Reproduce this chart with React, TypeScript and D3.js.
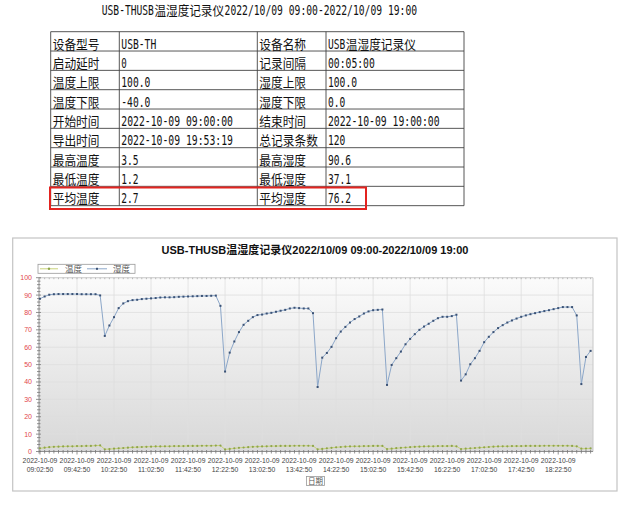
import * as d3 from "d3"

// ---- data ----
const pageTitle = "USB-THUSB温湿度记录仪2022/10/09 09:00-2022/10/09 19:00"
const chartTitle = "USB-THUSB温湿度记录仪2022/10/09 09:00-2022/10/09 19:00"
const seriesNames = ["温度", "湿度"]
const xAxisTitle = "日期"

const tableRows: string[][] = [
  ["设备型号", "USB-TH", "设备名称", "USB温湿度记录仪"],
  ["启动延时", "0", "记录间隔", "00:05:00"],
  ["温度上限", "100.0", "湿度上限", "100.0"],
  ["温度下限", "-40.0", "湿度下限", "0.0"],
  ["开始时间", "2022-10-09 09:00:00", "结束时间", "2022-10-09 19:00:00"],
  ["导出时间", "2022-10-09 19:53:19", "总记录条数", "120"],
  ["最高温度", "3.5", "最高湿度", "90.6"],
  ["最低温度", "1.2", "最低湿度", "37.1"],
  ["平均温度", "2.7", "平均湿度", "76.2"],
]

const firstRecord = new Date(2022, 9, 9, 9, 2, 50)
const recordMinutes = 5
const labelEveryRecords = 8

const humidity = [
  87.9, 89.2, 90.2, 90.5, 90.6, 90.6, 90.6, 90.6, 90.6, 90.5,
  90.5, 90.5, 90.5, 89.8, 66.5, 72.5, 77.3, 82.5, 85.2, 86.5,
  87.1, 87.3, 87.7, 87.9, 88.1, 88.3, 88.6, 88.7, 88.7, 88.8,
  89.0, 89.1, 89.2, 89.3, 89.4, 89.5, 89.5, 89.6, 89.7, 83.8,
  46.0, 56.9, 63.3, 68.7, 72.9, 75.2, 77.3, 78.5, 78.8, 79.4,
  79.8, 80.4, 81.0, 81.5, 82.3, 82.7, 82.5, 82.3, 82.3, 79.6,
  37.1, 54.0, 56.7, 60.2, 65.2, 69.0, 71.7, 74.2, 76.2, 77.7,
  79.4, 80.6, 81.3, 81.5, 81.7, 38.3, 49.8, 53.7, 57.5, 61.7,
  64.8, 67.5, 70.0, 71.9, 73.5, 75.2, 76.7, 77.5, 77.5, 77.9,
  78.7, 40.8, 44.4, 50.2, 53.7, 57.9, 62.9, 66.0, 68.7, 71.0,
  72.7, 74.2, 75.4, 76.5, 77.5, 78.3, 79.0, 79.6, 80.2, 80.8,
  81.3, 81.9, 82.5, 83.1, 83.1, 83.1, 78.3, 38.8, 54.4, 57.9,
]

const temperature = [
  1.8, 2.2, 2.5, 2.7, 2.8, 2.9, 3.0, 3.0, 3.1, 3.1, 3.2, 3.2, 3.4, 3.5,
  1.3, 1.4, 1.6, 1.8, 2.0, 2.2, 2.4, 2.5, 2.6, 2.7, 2.8, 2.9, 2.9, 3.0,
  3.0, 3.1, 3.1, 3.1, 3.2, 3.2, 3.2, 3.3, 3.3, 3.3, 3.4, 3.4,
  1.2, 1.5, 1.8, 2.1, 2.3, 2.5, 2.7, 2.8, 2.9, 3.0, 3.1, 3.1, 3.2, 3.2,
  3.2, 3.3, 3.3, 3.3, 3.3, 3.2,
  1.3, 1.5, 1.8, 2.1, 2.4, 2.6, 2.8, 2.9, 3.0, 3.0, 3.1, 3.1, 3.2, 3.2, 3.2,
  1.4, 1.6, 1.9, 2.1, 2.3, 2.5, 2.7, 2.8, 2.9, 3.0, 3.0, 3.1, 3.1, 3.1,
  3.2, 3.0,
  1.4, 1.6, 1.8, 2.0, 2.2, 2.4, 2.6, 2.8, 2.9, 3.0, 3.0, 3.1, 3.1, 3.1,
  3.2, 3.2, 3.2, 3.2, 3.3, 3.3, 3.3, 3.3, 3.3, 3.3, 3.2, 3.0,
  1.6, 1.7, 1.8,
]

const yTickValues = [0, 10, 20, 30, 40, 50, 60, 70, 80, 90, 100]

// ---- helpers ----
const isCJK = (c: string) => /[\u3000-\u9fff\uff00-\uffef]/.test(c)

function splitRuns(s: string) {
  const out: { text: string; cjk: boolean }[] = []
  for (const c of s) {
    const cjk = isCJK(c)
    const last = out[out.length - 1]
    if (last && last.cjk === cjk) last.text += c
    else out.push({ text: c, cjk })
  }
  return out
}

// SimHei-like text: full width ideographs, half width latin.
// Each run is squeezed horizontally with a transform (mono advance 0.602em, CJK 1em).
function HeiText({ x, y, text, em = 11.8, anchor = "start" }: {
  x: number; y: number; text: string; em?: number; anchor?: string
}) {
  const runs = splitRuns(text)
  const widths = runs.map((r) => (r.cjk ? r.text.length * em : r.text.length * em * 0.5))
  const total = d3.sum(widths)
  let cx = anchor === "middle" ? x - total / 2 : x
  return (
    <g fill="#111">
      {runs.map((r, i) => {
        const fs = r.cjk ? em * 1.1 : em * 1.15
        const natural = r.text.length * fs * (r.cjk ? 1 : 0.6021)
        const sx = (widths[i] - 0.4) / natural
        const el = (
          <text key={i} transform={`translate(${cx},${y}) scale(${sx},1)`}
            fontFamily={r.cjk ? "'Noto Sans CJK SC'" : "'DejaVu Sans Mono'"}
            fontSize={fs} style={{ whiteSpace: "pre" }}>{r.text}</text>
        )
        cx += widths[i]
        return el
      })}
    </g>
  )
}

export default function App() {
  const W = 640
  const H = 505

  // table geometry
  const colX = [50.7, 119.3, 257.3, 326, 464]
  const tTop = 31.7
  const rowH = 19.33
  const tBottom = tTop + rowH * tableRows.length

  // chart geometry
  const frame = { x: 12.7, y: 238, w: 604.3, h: 253 }
  const plot = { left: 39, right: 593, top: 277.7, bottom: 451.5 }

  const times = humidity.map((_, i) => d3.timeMinute.offset(firstRecord, i * recordMinutes))
  const x = d3.scaleTime()
    .domain([times[0], times[times.length - 1]])
    .range([40, 590.6])
  const y = d3.scaleLinear().domain([0, 100]).range([plot.bottom, plot.top])

  const line = d3.line<number>()
    .x((_, i) => x(times[i]))
    .y((d) => y(d))

  const labelTimes = times.filter((_, i) => i % labelEveryRecords === 0)
  const fmtDate = d3.timeFormat("%Y-%m-%d")
  const fmtTime = d3.timeFormat("%H:%M:%S")
  const minorY = d3.range(0, 101, 2).filter((v) => v % 10 !== 0)

  const humLine = "#8ca7c9"
  const humDot = "#3b5275"
  const tmpLine = "#c8d27a"
  const tmpDot = "#8ea54a"
  const legendY = 268.8

  return (
    <svg width={W} height={H} style={{ position: "absolute", left: 0, top: 0, background: "#fff" }}>
      <defs>
        <linearGradient id="plotBg" x1="0" y1="0" x2="0" y2="1">
          <stop offset="0" stopColor="#fbfbfb" />
          <stop offset="1" stopColor="#d8d8d8" />
        </linearGradient>
      </defs>

      {/* report header */}
      <HeiText x={259.7} y={15} text={pageTitle} em={11.7} anchor="middle" />

      {/* table */}
      <g stroke="#444" strokeWidth={0.9}>
        {tableRows.map((_, r) => (
          <line key={r} x1={colX[0]} x2={colX[4]} y1={tTop + r * rowH} y2={tTop + r * rowH} />
        ))}
        <line x1={colX[0]} x2={colX[4]} y1={tBottom} y2={tBottom} />
        {colX.map((cx, i) => (
          <line key={i} x1={cx} x2={cx} y1={tTop} y2={tBottom} />
        ))}
      </g>
      {tableRows.map((row, r) =>
        row.map((cell, c) => (
          <HeiText key={`${r}-${c}`} x={colX[c] + 2} y={tTop + r * rowH + 17} text={cell} />
        )),
      )}
      <rect x={50} y={187.5} width={316} height={21.5} fill="none" stroke="#e3231f" strokeWidth={2} />

      {/* chart frame */}
      <rect x={frame.x} y={frame.y} width={frame.w} height={frame.h} fill="#fff" stroke="#c4c4c4" strokeWidth={1.2} />
      <text x={315} y={254} textAnchor="middle" fontFamily="'Liberation Sans', 'Noto Sans CJK SC'"
        fontWeight="bold" fontSize={11} fill="#111">{chartTitle}</text>

      {/* plot area */}
      <rect x={plot.left} y={plot.top} width={plot.right - plot.left} height={plot.bottom - plot.top} fill="url(#plotBg)" />
      <g stroke="#dedede" strokeWidth={0.8}>
        {yTickValues.slice(1).map((v) => (
          <line key={v} x1={plot.left} x2={plot.right} y1={y(v)} y2={y(v)} />
        ))}
        {labelTimes.slice(1).map((t, i) => (
          <line key={i} x1={x(t)} x2={x(t)} y1={plot.top} y2={plot.bottom} />
        ))}
      </g>
      <line x1={plot.right} x2={plot.right} y1={plot.top} y2={plot.bottom} stroke="#c8c8c8" />
      <line x1={plot.left} x2={plot.right} y1={plot.top} y2={plot.top} stroke="#c8c8c8" strokeWidth={0.8} />

      {/* axes */}
      <g stroke="#777" strokeWidth={0.8}>
        <line x1={plot.left} x2={plot.left} y1={plot.top} y2={plot.bottom + 2} />
        <line x1={plot.left} x2={plot.right} y1={plot.bottom} y2={plot.bottom} />
        {yTickValues.map((v) => (
          <line key={v} x1={plot.left - 3} x2={plot.left + 2} y1={y(v)} y2={y(v)} />
        ))}
        {minorY.map((v) => (
          <line key={v} x1={plot.left - 2} x2={plot.left + 1.5} y1={y(v)} y2={y(v)} />
        ))}
        {times.map((t, i) => (
          <line key={i} x1={x(t)} x2={x(t)} y1={plot.bottom - 1.5} y2={plot.bottom + (i % labelEveryRecords === 0 ? 3 : 2)} />
        ))}
        {times.map((t, i) => (
          <line key={`t${i}`} x1={x(t)} x2={x(t)} y1={plot.top} y2={plot.top + 1.5} stroke="#aaa" />
        ))}
      </g>
      <g fontFamily="'Liberation Sans', Arial, sans-serif" fontSize={7} fill="#e2484a" textAnchor="end">
        {yTickValues.map((v) => (
          <text key={v} x={32} y={y(v)} dy="0.35em">{v}</text>
        ))}
      </g>
      <g fontFamily="'Liberation Sans', Arial, sans-serif" fontSize={6.8} fill="#444" textAnchor="middle">
        {labelTimes.map((t, i) => (
          <g key={i}>
            <text x={x(t)} y={463}>{fmtDate(t)}</text>
            <text x={x(t)} y={471.8}>{fmtTime(t)}</text>
          </g>
        ))}
      </g>
      <rect x={306.5} y={476.5} width={18} height={9} fill="#fff" stroke="#999" strokeWidth={0.8} />
      <text x={315.5} y={484} textAnchor="middle" fontFamily="'Noto Sans CJK SC'" fontSize={7.5} fill="#555">{xAxisTitle}</text>

      {/* series */}
      <path d={line(temperature) ?? ""} fill="none" stroke={tmpLine} strokeWidth={1} />
      {temperature.map((v, i) => (
        <circle key={i} cx={x(times[i])} cy={y(v)} r={1.1} fill={tmpDot} />
      ))}
      <path d={line(humidity) ?? ""} fill="none" stroke={humLine} strokeWidth={1} />
      {humidity.map((v, i) => (
        <rect key={i} x={x(times[i]) - 1} y={y(v) - 1} width={2} height={2} fill={humDot} />
      ))}

      {/* legend */}
      <rect x={38} y={264.3} width={97} height={9} fill="#fff" stroke="#999" strokeWidth={0.8} />
      <line x1={40} x2={58} y1={legendY} y2={legendY} stroke={tmpLine} />
      <circle cx={49} cy={legendY} r={1.2} fill={tmpDot} />
      <line x1={87} x2={107} y1={legendY} y2={legendY} stroke={humLine} />
      <rect x={96} y={legendY - 1} width={2} height={2} fill={humDot} />
      <g fontFamily="'Noto Sans CJK SC'" fontSize={8.5} fill="#555">
        <text x={65} y={legendY + 3}>{seriesNames[0]}</text>
        <text x={113} y={legendY + 3}>{seriesNames[1]}</text>
      </g>
    </svg>
  )
}
